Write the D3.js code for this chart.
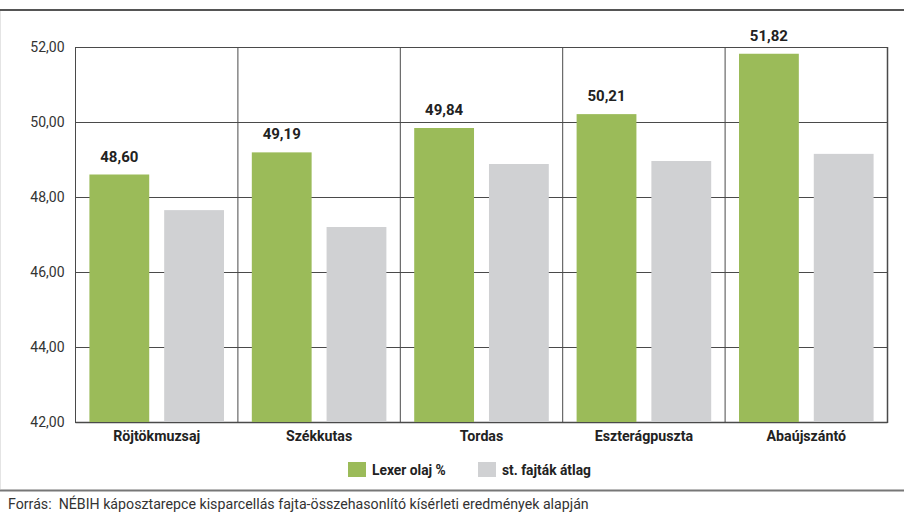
<!DOCTYPE html>
<html lang="hu">
<head>
	<meta charset="UTF-8">
	<title>Lexer olaj %</title>
	<script src="https://cdnjs.cloudflare.com/ajax/libs/d3/7.8.5/d3.min.js"></script>
	<style>
		body { margin: 0; background: #fff; }
		svg { display: block; font-family: Roboto, "Noto Sans", sans-serif; }
	</style>
</head>
<body>
	<svg id="chart" width="904" height="513"></svg>
	<script>
		// data
		var categories = ["Röjtökmuzsaj", "Székkutas", "Tordas", "Eszterágpuszta", "Abaújszántó"];
		var lexer = [48.60, 49.19, 49.84, 50.21, 51.82];
		var atlag = [47.65, 47.20, 48.88, 48.96, 49.15];
		var seriesNames = ["Lexer olaj %", "st. fajták átlag"];
		var yTicks = [42, 44, 46, 48, 50, 52];
		var source = "Forrás:  NÉBIH káposztarepce kisparcellás fajta-összehasonlító kísérleti eredmények alapján";

		var green = "#9bbb59", grey = "#d0d1d3", line = "#4a4a4a";
		var svg = d3.select("#chart");

		// note: "top" is taken by window.top, so plot edges get their own names
		var plotL = 75.5, plotR = 887.5, plotT = 47, plotB = 422;
		var x = d3.scaleBand().domain(categories).range([plotL, plotR]);
		var y = d3.scaleLinear().domain([42, 52]).range([plotB, plotT]);
		var inner = d3.scaleBand().domain(seriesNames).range([0, x.bandwidth()])
			.paddingInner(0.2).paddingOuter(0.186);

		// frame lines
		svg.append("line").attr("x1", 0).attr("x2", 904).attr("y1", 10).attr("y2", 10)
			.attr("stroke", "#555").attr("stroke-width", 2);
		svg.append("line").attr("x1", 0).attr("x2", 904).attr("y1", 490.5).attr("y2", 490.5)
			.attr("stroke", "#777").attr("stroke-width", 2);
		svg.append("line").attr("x1", 0.5).attr("x2", 0.5).attr("y1", 11).attr("y2", 489)
			.attr("stroke", "#e4e4e4").attr("stroke-width", 1);

		// grid
		var grid = svg.append("g");
		grid.selectAll("line.h").data(yTicks).enter().append("line")
			.attr("x1", plotL).attr("x2", plotR)
			.attr("y1", function(d) { return Math.round(y(d)) + 0.5; })
			.attr("y2", function(d) { return Math.round(y(d)) + 0.5; })
			.attr("stroke", line).attr("stroke-width", function(d) { return d == 42 ? 1.5 : 1; });
		var vx = categories.map(function(c) { return x(c); }).concat([plotR]);
		grid.selectAll("line.v").data(vx).enter().append("line")
			.attr("x1", function(d) { return d; }).attr("x2", function(d) { return d; })
			.attr("y1", plotT).attr("y2", plotB + 1)
			.attr("stroke", line).attr("stroke-width", function(d, i) { return i == vx.length - 1 ? 1.5 : 1; });

		// y axis labels
		var yAxis = d3.axisLeft(y).tickValues(yTicks).tickSize(0).tickPadding(11)
			.tickFormat(function(d) { return d3.format(".2f")(d).replace(".", ","); });
		svg.append("g").attr("transform", "translate(" + plotL + ",0)").call(yAxis)
			.call(function(g) { g.select(".domain").remove(); })
			.selectAll("text").attr("font-size", 14).attr("fill", "#333")
			.attr("font-family", "Roboto, sans-serif");

		// bars
		var groups = svg.append("g").selectAll("g").data(categories).enter().append("g")
			.attr("transform", function(d) { return "translate(" + x(d) + ",0)"; });
		groups.append("rect")
			.attr("x", inner(seriesNames[0])).attr("width", inner.bandwidth())
			.attr("y", function(d, i) { return y(lexer[i]); })
			.attr("height", function(d, i) { return y(42) - y(lexer[i]); })
			.attr("fill", green);
		groups.append("rect")
			.attr("x", inner(seriesNames[1])).attr("width", inner.bandwidth())
			.attr("y", function(d, i) { return y(atlag[i]); })
			.attr("height", function(d, i) { return y(42) - y(atlag[i]); })
			.attr("fill", grey);
		groups.append("text")
			.attr("x", inner(seriesNames[0]) + inner.bandwidth() / 2)
			.attr("y", function(d, i) { return y(lexer[i]) - 13; })
			.attr("text-anchor", "middle").attr("font-size", 15).attr("font-weight", "bold")
			.attr("fill", "#222")
			.text(function(d, i) { return lexer[i].toFixed(2).replace(".", ","); });

		// category labels
		groups.append("text")
			.attr("x", x.bandwidth() / 2).attr("y", 441)
			.attr("text-anchor", "middle").attr("font-size", 14.2).attr("font-weight", "bold")
			.attr("fill", "#222")
			.text(function(d) { return d; });

		// legend
		var legendX = [348, 478];
		var legend = svg.append("g").selectAll("g").data(seriesNames).enter().append("g")
			.attr("transform", function(d, i) { return "translate(" + legendX[i] + ",462)"; });
		legend.append("rect").attr("width", 18).attr("height", 15)
			.attr("fill", function(d, i) { return i == 0 ? green : grey; });
		legend.append("text").attr("x", 24).attr("y", 12.5)
			.attr("font-size", 13.8).attr("font-weight", "bold").attr("fill", "#222")
			.text(function(d) { return d; });

		// source
		svg.append("text").attr("x", 8).attr("y", 509).attr("font-size", 14.2).attr("fill", "#333")
			.attr("xml:space", "preserve")
			.text(source);
	</script>
</body>
</html>
